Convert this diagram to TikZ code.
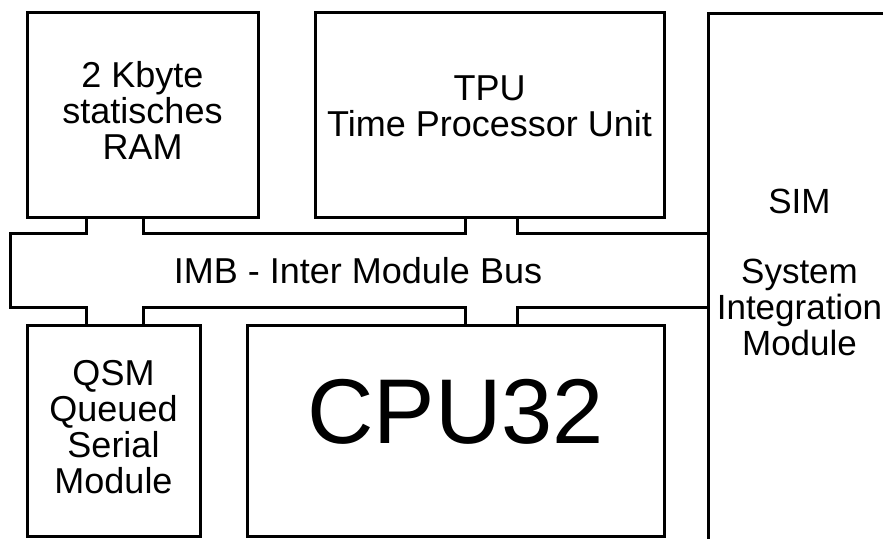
\documentclass[tikz,border=0pt]{standalone}
\usepackage{fontspec}
\setmainfont{Liberation Sans}

\begin{document}
\begin{tikzpicture}[x=1pt,y=-1pt,line width=3pt,
	box/.style={draw,rectangle,inner sep=0pt,align=center,font=\fontsize{36}{36}\selectfont}]
  \useasboundingbox (0,0) rectangle (883,538);

  \node[box,minimum width=231pt,minimum height=205pt,text depth=9pt]		(ram) at (142.5,114.5)	{2 Kbyte\\statisches\\RAM};
  \node[box,minimum width=349pt,minimum height=205pt,text depth=17pt]	(tpu) at (489.5,114.5)	{TPU\\Time Processor Unit};
  \node[box,minimum width=173pt,minimum height=211pt,text depth=7pt]		(qsm) at (113.5,430.5)	{QSM\\Queued\\Serial\\Module};
  \node[box,minimum width=417pt,minimum height=211pt,text depth=38pt,font=\fontsize{92}{92}\selectfont]
  	(cpu) at (455.5,430.5)	{CPU32};
  \node[box,anchor=north west,minimum width=182pt,minimum height=560pt,text depth=42pt,font=\fontsize{35}{36}\selectfont]
  	(sim) at (707,12)	{SIM\\[34pt]System\\Integration\\Module};

  % bus with its stubs
  \draw	(707,233) -| (517,217)
	(465,217) |- (143,233) -- (143,217)
	(86,217) |- (10,233) -- (10,307) -| (86,325)
	(143,325) |- (465,307) -- (465,325)
	(517,325) |- (707,307);
  \node[inner sep=0pt,font=\fontsize{36}{36}\selectfont]	(imb) at (358,271)	{IMB - Inter Module Bus};
\end{tikzpicture}
\end{document}
